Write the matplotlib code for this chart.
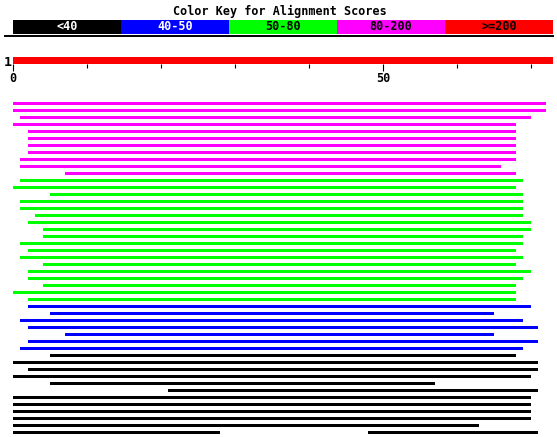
import matplotlib
matplotlib.use('Agg')
import matplotlib.pyplot as plt
from matplotlib.lines import Line2D

# color key
key_labels = ['<40', '40-50', '50-80', '80-200', '>=200']
key_colors = ['#000000', '#0000ff', '#00ff00', '#ff00ff', '#ff0000']
key_text_colors = ['white', 'white', 'black', 'black', 'black']

# query
query_len = 73

# hits: start, end, score bin (index into key) -- one row per hit line
hit_start = [0, 0, 1, 0, 2, 2, 2, 2, 1, 1, 7,
             1, 0, 5, 1, 1, 3, 2, 4, 4, 1, 2, 1, 4, 2, 2, 4, 0, 2,
             2, 5, 1, 2, 7, 2, 1,
             5, 0, 2, 0, 5, 21, 0, 0, 0, 0, 0, 0]
hit_end = [72, 72, 70, 68, 68, 68, 68, 68, 68, 66, 68,
           69, 68, 69, 69, 69, 69, 70, 70, 69, 69, 68, 69, 68, 70, 69, 68, 68, 68,
           70, 65, 69, 71, 65, 71, 69,
           68, 71, 71, 70, 57, 71, 70, 70, 70, 70, 63, 28]
hit_bin = [3] * 11 + [2] * 18 + [1] * 7 + [0] * 12

# second segment on the last line
extra_row = [47]
extra_start = [48]
extra_end = [71]

W, H = 557, 437
fig = plt.figure(figsize=(W / 100, H / 100), dpi=100)
font = dict(family='DejaVu Sans Mono', weight='bold', size=8.5)


def px_axes(left, top, right, bottom):
    return fig.add_axes([left / W, 1 - bottom / H, (right - left) / W, (bottom - top) / H])


# title and key
fig.text(280 / W, 1 - 11 / H, 'Color Key for Alignment Scores', ha='center', va='center', **font)
ax_key = px_axes(13, 20, 553, 34)
ax_key.barh(0, [1] * 5, left=range(5), height=1, color=key_colors, align='edge')
for i, lab in enumerate(key_labels):
    ax_key.text(i + 0.5, 0.5, lab, ha='center', va='center', color=key_text_colors[i], **font)
ax_key.set_xlim(0, 5)
ax_key.set_ylim(0, 1)
ax_key.axis('off')

fig.add_artist(Line2D([5 / W, 553 / W], [1 - 36 / H] * 2, color='black', lw=1.4,
                      transform=fig.transFigure))

# query bar with ruler
ax_q = px_axes(13, 57, 553, 64)
ax_q.barh(0.5, query_len, height=1, color='#ff0000')
ax_q.set_xlim(0, query_len)
ax_q.set_ylim(0, 1)
for s in ax_q.spines.values():
    s.set_visible(False)
ax_q.set_xticks([0, 50])
ax_q.set_xticklabels(['0', '50'], fontdict=font)
ax_q.set_xticks([10, 20, 30, 40, 60, 70], minor=True)
ax_q.tick_params(axis='x', which='major', length=5, width=0.8, pad=1)
ax_q.tick_params(axis='x', which='minor', length=2.8, width=0.8)
ax_q.set_yticks([0.5])
ax_q.set_yticklabels(['1'], fontdict=dict(font, size=9.5))
ax_q.tick_params(axis='y', length=0, pad=1)

# alignment hits
n_rows = len(hit_start)
ax = px_axes(13, 100, 553, 436)
widths = [e - s for s, e in zip(hit_start, hit_end)]
ax.barh(range(n_rows), widths, left=hit_start, height=3 / 7,
        color=[key_colors[b] for b in hit_bin])
ax.barh(extra_row, [e - s for s, e in zip(extra_start, extra_end)], left=extra_start,
        height=3 / 7, color=[key_colors[hit_bin[r]] for r in extra_row])
ax.set_xlim(0, query_len)
ax.set_ylim(n_rows - 0.5, -0.5)
ax.axis('off')

fig.savefig('out.png', dpi=100)
